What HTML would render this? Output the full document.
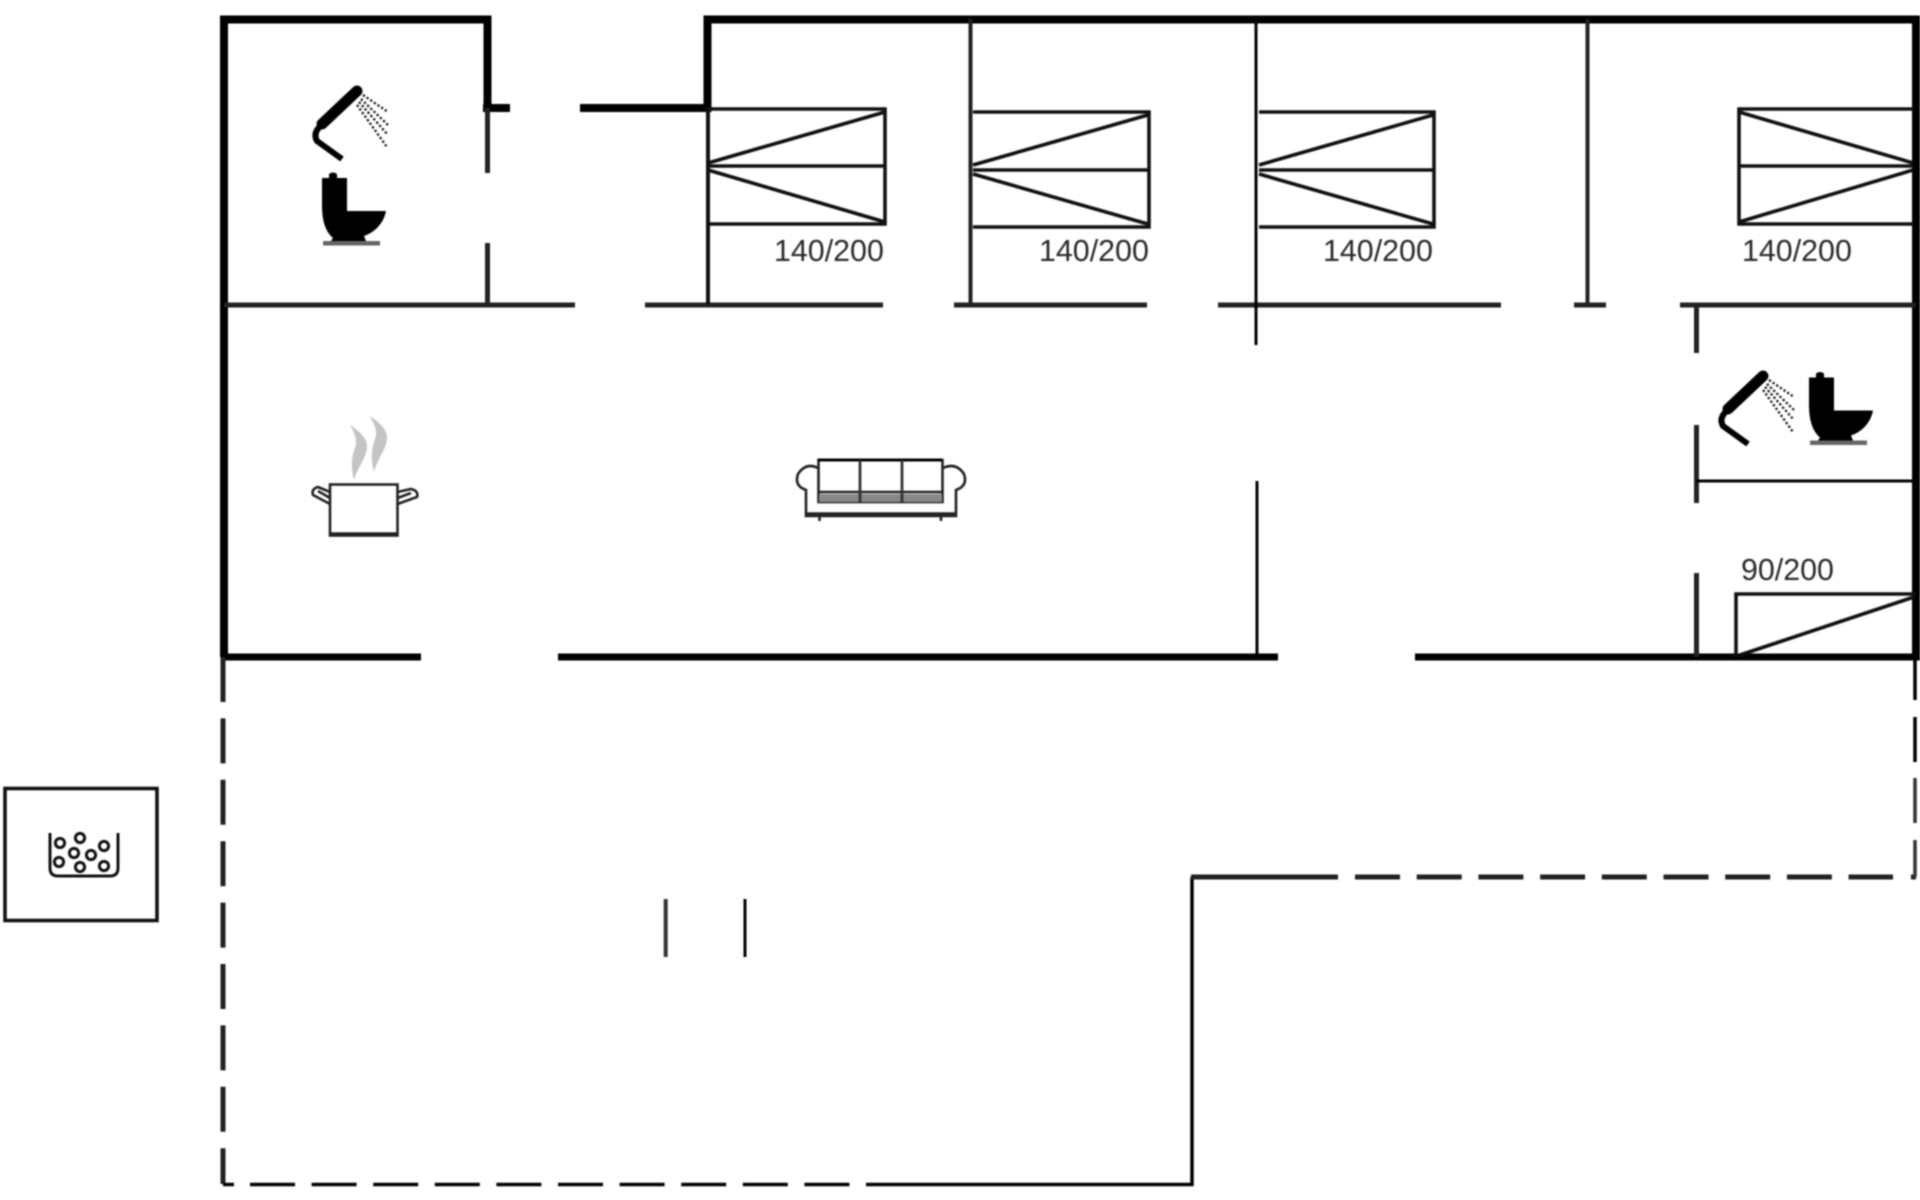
<!DOCTYPE html>
<html>
<head>
<meta charset="utf-8">
<style>
html,body{margin:0;padding:0;background:#fff;width:1920px;height:1200px;overflow:hidden}
svg{display:block;filter:blur(.7px)}
text{font-family:"Liberation Sans",sans-serif;font-size:30.4px;fill:#2a2a2a}
.w8{stroke:#000;stroke-width:8;fill:none}
.w7{stroke:#000;stroke-width:7;fill:none}
.w5{stroke:#222;stroke-width:5;fill:none}
.b{stroke:#111;stroke-width:3.6;fill:none}
</style>
</head>
<body>
<svg width="1920" height="1200" viewBox="0 0 1920 1200" xmlns="http://www.w3.org/2000/svg">
<defs>
<g id="shower">
<path d="M323 124 Q312 132 317 141 L342 159" fill="none" stroke="#000" stroke-width="6"/>
<path d="M357 91 L322 124" fill="none" stroke="#000" stroke-width="11" stroke-linecap="round"/>
<g stroke="#111" stroke-width="2.3" stroke-dasharray="2.2 2.2" fill="none">
<path d="M363 95 L388 112"/><path d="M361 99 L388 125"/><path d="M359 102 L388 135"/><path d="M357 105 L387 147"/>
</g>
</g>
<g id="toilet">
<path d="M322 178 H329 V174 Q333 171 337 174 V178 H347 V211 H386 C384 222 376 232 364 236 L366 241 H331 L333 238 C326 232 322 222 322 205 Z" fill="#000"/>
<rect x="323" y="241" width="57" height="4.5" fill="#666"/>
</g>
</defs>

<!-- thick outer walls -->
<path class="w8" d="M224 657 V19.5 H487.5 V108"/>
<path class="w8" d="M483 108 H510"/>
<path class="w8" d="M580 108 H707.5 V19.5 H1916 V657"/>

<!-- bottom wall -->
<path class="w7" d="M224 657 H421"/>
<path class="w7" d="M558 657 H1278"/>
<path class="w7" d="M1415 657 H1920"/>

<!-- inner walls -->
<g stroke="#222" stroke-width="5" fill="none">
<path d="M224 305 H575"/><path d="M645 305 H883"/><path d="M954 305 H1147"/><path d="M1218 305 H1501"/><path d="M1574 305 H1606"/><path d="M1680 305 H1916"/>
<path d="M487.5 108 V173"/><path d="M487.5 243 V305"/>
<path d="M708 108 V305" stroke="#111" stroke-width="4"/>
<path d="M970.5 19 V305" stroke-width="4"/>
<path d="M1587.5 19 V305" stroke-width="4"/>
<path d="M1696.5 305 V353"/><path d="M1696.5 425 V503"/><path d="M1696.5 573 V657"/>
</g>
<path d="M1256 19 V345" stroke="#000" stroke-width="3" fill="none"/>
<path d="M1257 481 V657" stroke="#000" stroke-width="3" fill="none"/>
<path d="M1696 481 H1916" stroke="#000" stroke-width="3" fill="none"/>

<!-- beds -->
<g class="b">
<path d="M708 109 H885 V224 H708"/><path d="M708 166 H885"/><path d="M885 112 L708 163"/><path d="M708 170 L885 222"/>
<path d="M973 112 H1149 V227 H973"/><path d="M973 170 H1149"/><path d="M1148 115 L973 165"/><path d="M973 174 L1148 224"/>
<path d="M1259 112 H1434 V227 H1259"/><path d="M1259 170 H1434"/><path d="M1433 115 L1259 165"/><path d="M1259 174 L1433 224"/>
<path d="M1913 109 H1739 V224 H1913"/><path d="M1739 166 H1913"/><path d="M1739 112 L1913 163"/><path d="M1913 170 L1739 222"/>
<path d="M1736 657 V594 H1916"/><path d="M1740 655 L1914 597"/>
</g>
<text x="774" y="261">140/200</text>
<text x="1039" y="261">140/200</text>
<text x="1323" y="261">140/200</text>
<text x="1742" y="261">140/200</text>
<text x="1741" y="580">90/200</text>

<!-- fixtures -->
<use href="#shower"/>
<use href="#toilet"/>
<use href="#shower" transform="translate(1406 285)"/>
<use href="#toilet" transform="translate(1487 199.5)"/>

<!-- pot -->
<g fill="none" stroke="#222" stroke-width="2.6">
<rect x="330" y="484.5" width="67.5" height="51"/>
<path d="M330 492 L318 487 Q311 489 313 495 L330 504"/>
<path d="M318 491 L330 498"/>
<path d="M397.5 492 L411 489 Q419 491 417 497 L397.5 504"/>
<path d="M411 493 L397.5 498"/>
<path d="M330 534 H397.5" stroke-width="3.5"/>
</g>
<path d="M350 425 C358 430 367 438 367 446 C367 458 358 466 354 480 C351 468 351 458 355 448 C358 440 354 432 350 425 Z" fill="#c4c4c4"/>
<path d="M369.5 416 C378 421 387 429 387 437 C387 449 378 457 374 472 C371 460 371 449 375 439 C378 431 374 423 369.5 416 Z" fill="#c4c4c4"/>

<!-- sofa -->
<g fill="none" stroke="#222" stroke-width="2.6">
<rect x="818.5" y="460" width="124" height="42"/>
<path d="M818 460 H942" stroke="#000" stroke-width="3"/>
<path d="M818 492 H942"/>
<path d="M818 468 Q806 462 798 474 Q794 486 806 490 V516 H956 V490 Q968 486 964 474 Q956 462 943 468"/>
<path d="M806 514 H956" stroke-width="3.5"/>
<path d="M819.5 516 V521 M941 516 V521"/>
</g>
<rect x="819" y="494" width="123" height="8" fill="#888"/>
<path d="M860 460 V502 M902 460 V502" stroke="#333" stroke-width="2.8" fill="none"/>

<!-- dashed outline -->
<path class="w5" d="M223 657 V1184" stroke-dasharray="45 16.4"/>
<path d="M223 1184.5 H234" stroke="#000" stroke-width="3.5" fill="none"/>
<path d="M250 1184.5 H850" stroke="#000" stroke-width="3.5" fill="none" stroke-dasharray="45 16.6"/>
<path d="M866 1184.5 H1192 V877" stroke="#000" stroke-width="3.5" fill="none"/>
<path d="M1191 877 H1338" class="w5"/>
<path d="M1355 877 H1893" class="w5" stroke-dasharray="45 16.7"/>
<path d="M1911 877 H1916" class="w5"/>
<path d="M1915 660 V700 M1915 717 V762" stroke="#000" stroke-width="3.5" fill="none"/>
<path d="M1915 778 V823 M1915 840 V877" stroke="#333" stroke-width="3.5" fill="none"/>

<!-- stubs -->
<path d="M665.7 899 V957" stroke="#333" stroke-width="4" fill="none"/>
<path d="M745 899 V957" stroke="#000" stroke-width="3" fill="none"/>

<!-- hot tub -->
<rect x="5" y="788.5" width="152" height="132" fill="none" stroke="#111" stroke-width="3.6"/>
<path d="M50 833 V868 Q50 876 58 876 H110 Q118 876 118 868 V833" fill="none" stroke="#111" stroke-width="3"/>
<g fill="none" stroke="#111" stroke-width="3">
<circle cx="60" cy="843" r="4.6"/><circle cx="80" cy="838" r="4.6"/><circle cx="104" cy="846" r="4.6"/>
<circle cx="74" cy="853" r="4.6"/><circle cx="91" cy="855" r="4.6"/><circle cx="59" cy="862" r="4.6"/>
<circle cx="80" cy="867" r="4.6"/><circle cx="104" cy="866" r="4.6"/>
</g>
</svg>
</body>
</html>
